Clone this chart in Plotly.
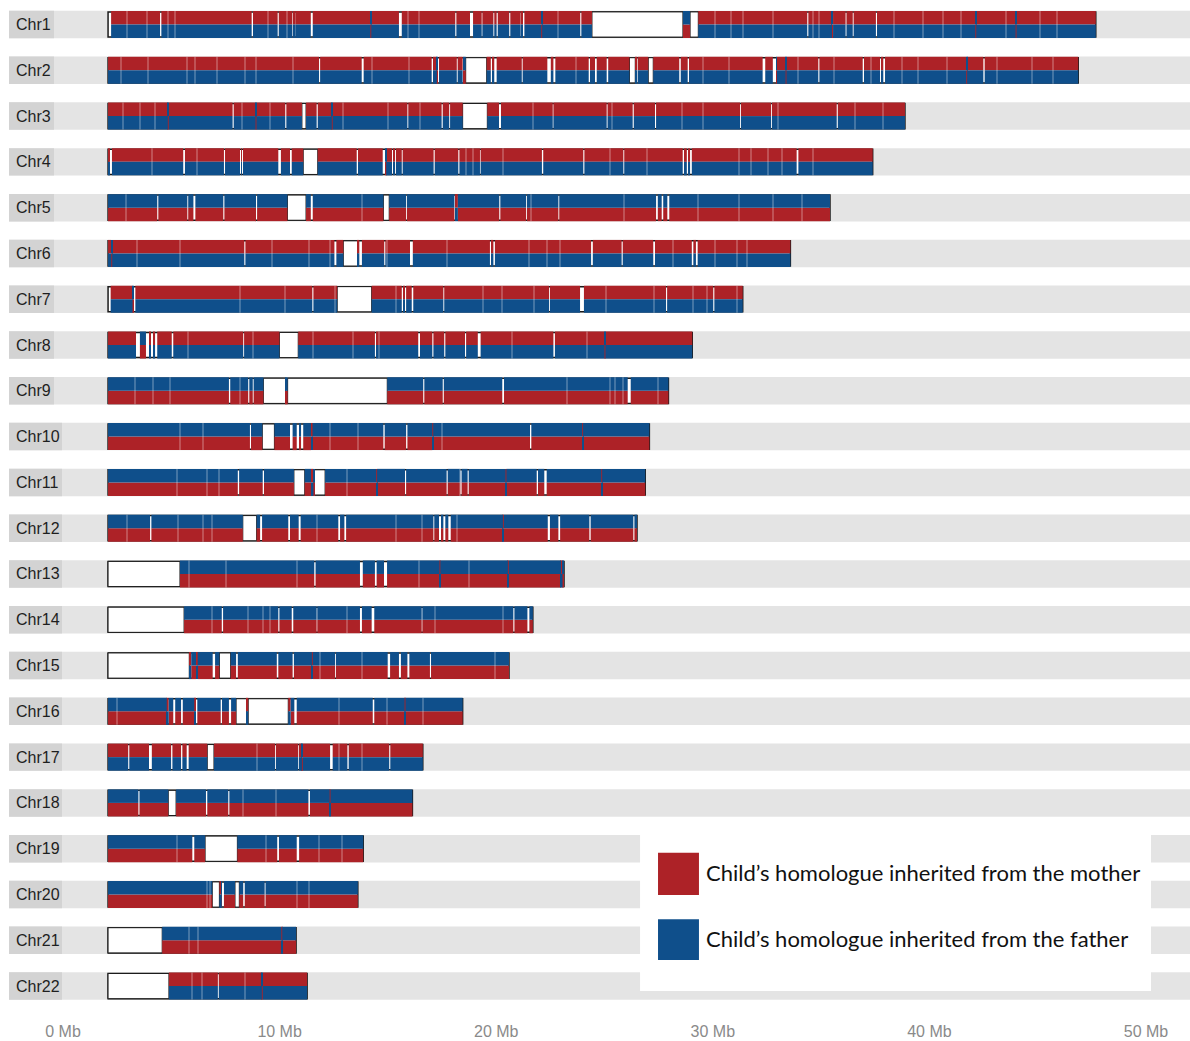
import plotly.graph_objects as go

# ---------------------------------------------------------------- data (Mb)
chrom_names = ["Chr1", "Chr2", "Chr3", "Chr4", "Chr5", "Chr6", "Chr7", "Chr8",
               "Chr9", "Chr10", "Chr11", "Chr12", "Chr13", "Chr14", "Chr15",
               "Chr16", "Chr17", "Chr18", "Chr19", "Chr20", "Chr21", "Chr22"]
chrom_start = 2.08
chrom_ends = [47.68, 46.87, 38.87, 37.38, 35.41, 33.58, 31.38, 29.05, 27.95,
              27.07, 26.88, 26.50, 23.13, 21.69, 20.59, 18.45, 16.61, 16.13,
              13.86, 13.61, 10.76, 11.27]
# parent whose homologue occupies the upper half of each bar
upper_parent = ["mother", "mother", "mother", "mother", "father", "mother",
                "mother", "mother", "father", "father", "father", "father",
                "father", "father", "father", "father", "mother", "father",
                "father", "father", "father", "mother"]

# uncovered stretches (no informative markers), [start, end] in Mb
gaps_chr1 = [[2.08, 2.22], [4.48, 4.54], [8.71, 8.77], [9.91, 9.96], [10.59, 10.63],
             [10.68, 10.72], [11.44, 11.53], [15.51, 15.64], [18.11, 18.16],
             [18.79, 18.93], [19.33, 19.36], [19.87, 19.91], [20.02, 20.07],
             [20.60, 20.65], [21.13, 21.18], [21.22, 21.30], [23.88, 23.93],
             [24.42, 28.62], [28.95, 29.33], [34.36, 34.41], [36.13, 36.17],
             [36.46, 36.50], [37.53, 37.58]]
gaps_chr2 = [[11.82, 11.87], [13.79, 13.88], [17.02, 17.08], [17.30, 17.36],
             [18.18, 18.22], [18.45, 18.51], [18.59, 19.56], [19.75, 19.84],
             [19.91, 20.02], [21.18, 21.22], [22.36, 22.52], [22.64, 22.73],
             [24.27, 24.33], [24.56, 24.64], [25.10, 25.17], [26.15, 26.42],
             [26.49, 26.53], [27.02, 27.25], [28.45, 28.52], [28.84, 28.90],
             [32.30, 32.42], [32.77, 32.92], [34.87, 34.92], [36.92, 36.98],
             [37.72, 37.80], [37.87, 37.95], [42.49, 42.55]]
gaps_chr3 = [[7.83, 7.88], [10.26, 10.31], [11.03, 11.22], [11.71, 11.76],
             [15.90, 15.94], [17.48, 17.53], [17.83, 17.87], [18.45, 19.59],
             [20.13, 20.22], [22.61, 22.64], [25.10, 25.14], [26.30, 26.35],
             [27.33, 27.38], [31.26, 31.30], [32.69, 32.73], [35.72, 35.77]]
gaps_chr4 = [[2.17, 2.26], [5.55, 5.63], [7.43, 7.48], [8.17, 8.22], [8.26, 8.31],
             [9.94, 10.06], [10.48, 10.56], [11.09, 11.76], [13.56, 13.62],
             [14.76, 14.88], [15.19, 15.25], [15.31, 15.37], [15.64, 15.68],
             [17.11, 17.16], [18.25, 18.30], [19.25, 19.28], [22.11, 22.17],
             [24.02, 24.07], [25.87, 25.91], [28.61, 28.67], [28.80, 28.87],
             [28.95, 29.03], [33.87, 33.95]]
gaps_chr5 = [[4.35, 4.40], [5.74, 5.78], [6.02, 6.11], [7.40, 7.45], [8.91, 8.96],
             [10.36, 11.22], [11.44, 11.53], [14.79, 15.06], [15.84, 15.88],
             [18.07, 18.14], [20.14, 20.19], [21.38, 21.42], [22.87, 22.91],
             [27.38, 27.46], [27.64, 27.71], [27.90, 27.99]]
gaps_chr6 = [[8.37, 8.42], [12.53, 12.62], [12.94, 13.61], [13.68, 13.80],
             [14.83, 14.88], [16.02, 16.15], [19.71, 19.79], [19.87, 19.94],
             [24.38, 24.46], [25.79, 25.84], [27.25, 27.33], [29.03, 29.10],
             [29.22, 29.30]]
gaps_chr7 = [[2.08, 2.20], [3.25, 3.34], [11.51, 11.56], [12.66, 14.25],
             [15.64, 15.71], [15.76, 15.84], [16.10, 16.17], [17.56, 17.60],
             [22.44, 22.48], [23.87, 24.05], [27.84, 27.89], [30.02, 30.07]]
gaps_chr8 = [[3.37, 3.55], [3.83, 3.98], [4.06, 4.17], [4.25, 4.35], [5.02, 5.09],
             [8.32, 8.36], [9.99, 10.86], [14.40, 14.45], [16.40, 16.48],
             [17.05, 17.10], [17.60, 17.65], [18.56, 18.61], [19.15, 19.28],
             [22.64, 22.71]]
gaps_chr9 = [[7.66, 7.72], [8.55, 8.60], [8.76, 8.80], [9.25, 10.28],
             [10.37, 14.97], [16.63, 16.68], [17.53, 17.58], [20.28, 20.36],
             [26.07, 26.21]]
gaps_chr10 = [[8.63, 8.68], [9.20, 9.76], [10.48, 10.60], [10.79, 10.91],
              [10.99, 11.09], [14.79, 14.85], [15.84, 15.90], [21.56, 21.62]]
gaps_chr11 = [[8.07, 8.13], [9.22, 9.28], [10.66, 11.16], [11.59, 12.10],
              [15.79, 15.84], [17.71, 17.76], [18.35, 18.40], [18.68, 18.73],
              [21.87, 21.93], [22.22, 22.33]]
gaps_chr12 = [[4.02, 4.08], [8.30, 8.94], [9.10, 9.19], [10.40, 10.48],
              [10.88, 10.97], [12.71, 12.79], [12.99, 13.07], [17.10, 17.14],
              [17.36, 17.45], [17.56, 17.65], [17.79, 17.90], [22.38, 22.48],
              [22.87, 22.95], [24.30, 24.36], [26.33, 26.38]]
gaps_chr13 = [[2.08, 5.40], [11.60, 11.66], [13.71, 13.84], [14.40, 14.48],
              [14.82, 14.96]]
gaps_chr14 = [[2.08, 5.59], [7.33, 7.39], [9.94, 9.99], [10.56, 10.63],
              [11.71, 11.74], [13.71, 13.80], [14.25, 14.37], [16.56, 16.59],
              [20.79, 20.84], [21.44, 21.53]]
gaps_chr15 = [[2.08, 5.83], [6.91, 7.02], [7.22, 7.74], [7.99, 8.07], [9.87, 9.94],
              [10.60, 10.66], [12.56, 12.60], [14.99, 15.10], [15.51, 15.60],
              [15.90, 15.99], [16.94, 16.99]]
gaps_chr16 = [[5.09, 5.18], [5.45, 5.53], [6.11, 6.20], [7.28, 7.34], [7.66, 7.76],
              [7.99, 8.48], [8.55, 10.40], [10.68, 10.79], [14.30, 14.37]]
gaps_chr17 = [[3.01, 3.06], [3.97, 4.10], [4.99, 5.05], [5.45, 5.51], [5.71, 5.80],
              [6.66, 6.97], [9.79, 9.83], [10.86, 10.94], [12.33, 12.45],
              [13.13, 13.19], [15.06, 15.11]]
gaps_chr18 = [[3.48, 3.53], [4.86, 5.22], [6.60, 6.66], [7.63, 7.68], [11.33, 11.40]]
gaps_chr19 = [[5.97, 6.06], [6.56, 8.05], [9.89, 9.97], [10.79, 10.90]]
gaps_chr20 = [[6.89, 7.22], [7.34, 7.43], [7.94, 8.14], [8.32, 8.39], [9.31, 9.35]]
gaps_chr21 = [[2.08, 4.58]]
gaps_chr22 = [[2.08, 4.89], [7.15, 7.19]]

# short stretches where the two homologues swap halves, [start, end] in Mb
swaps_chr1 = [[28.62, 28.95], [35.50, 35.55], [42.12, 42.16], [43.98, 44.02],
              [14.19, 14.23], [22.08, 22.12]]
swaps_chr2 = [[17.26, 17.30], [18.51, 18.59], [32.92, 32.96], [41.70, 41.74],
              [33.36, 33.40]]
swaps_chr3 = [[8.89, 8.93], [12.41, 12.45], [4.84, 4.88]]
swaps_chr4 = [[14.88, 14.92]]
swaps_chr5 = [[18.14, 18.23]]
swaps_chr6 = [[2.23, 2.27]]
swaps_chr7 = [[3.21, 3.25]]
swaps_chr8 = [[3.55, 3.83], [25.00, 25.04]]
swaps_chr9 = []
swaps_chr10 = [[11.45, 11.52], [17.05, 17.09], [23.97, 24.01]]
swaps_chr11 = [[11.45, 11.56], [14.46, 14.50], [20.43, 20.47], [24.85, 24.89]]
swaps_chr12 = [[20.31, 20.35]]
swaps_chr13 = [[17.38, 17.42], [20.54, 20.58], [22.99, 23.06]]
swaps_chr14 = []
swaps_chr15 = [[5.83, 5.92], [6.14, 6.22], [11.49, 11.53]]
swaps_chr16 = [[4.79, 4.88], [6.06, 6.11], [8.48, 8.55], [10.40, 10.51], [15.77, 15.81]]
swaps_chr17 = [[11.03, 11.07]]
swaps_chr18 = [[12.31, 12.35]]
swaps_chr19 = []
swaps_chr20 = [[7.22, 7.33]]
swaps_chr21 = [[10.08, 10.12]]
swaps_chr22 = [[9.18, 9.22]]

# isolated low-confidence markers, Mb
weak_chr1 = [2.94, 3.86, 4.86, 5.17, 9.48, 10.33, 15.94, 16.44, 22.87, 30.10, 30.83,
             31.41, 32.79, 34.61, 34.92, 38.36, 39.72, 40.64, 41.44, 43.54, 45.11, 45.88]
weak_chr2 = [2.66, 3.94, 5.74, 6.09, 7.10, 8.40, 8.91, 10.63, 14.25, 15.99, 23.68,
             29.56, 30.76, 33.95, 35.60, 37.30, 38.72, 39.49, 40.80, 43.13, 44.72, 45.69]
weak_chr3 = [2.78, 3.55, 4.25, 8.25, 9.56, 12.94, 15.02, 16.48, 21.71, 25.33, 28.56,
             29.56, 33.02, 36.56, 37.84]
weak_chr4 = [4.10, 6.17, 18.61, 18.94, 20.33, 25.25, 26.95, 31.22, 31.75, 32.56,
             33.18, 34.61]
weak_chr5 = [2.91, 13.79, 21.60, 25.91, 29.33, 31.20, 32.80, 34.10]
weak_chr6 = [3.40, 5.40, 9.66, 11.36, 12.33, 14.97, 17.71, 21.53, 22.33, 22.95,
             28.18, 30.10, 31.10, 31.57]
weak_chr7 = [8.17, 10.25, 12.56, 15.37, 19.40, 20.28, 21.74, 25.07, 27.30, 29.10,
             29.72, 31.10]
weak_chr8 = [5.79, 8.79, 11.56, 13.40, 14.60, 20.74, 24.18]
weak_chr9 = [3.32, 4.17, 4.94, 8.17, 23.25, 25.25, 25.49, 25.87, 27.48]
weak_chr10 = [5.40, 6.48, 12.33, 13.60, 17.50]
weak_chr11 = [5.25, 6.63, 7.20, 13.10, 18.33]
weak_chr12 = [2.97, 5.32, 6.48, 6.89, 11.71, 15.37, 16.59, 18.18]
weak_chr13 = [5.83, 7.53, 10.79, 16.45, 18.76]
weak_chr14 = [6.89, 8.56, 9.22, 9.56, 13.13, 17.17, 20.33]
weak_chr15 = [11.87, 13.82, 19.94]
weak_chr16 = [2.48, 12.76, 14.94, 16.60]
weak_chr17 = [8.94, 12.76, 13.79]
weak_chr18 = [8.32, 9.83]
weak_chr19 = [5.28, 9.36, 11.80, 12.90]
weak_chr20 = [6.63, 6.79, 10.79, 11.37]
weak_chr21 = [5.83, 6.25]
weak_chr22 = [5.94, 6.40, 8.40]

gaps = [gaps_chr1, gaps_chr2, gaps_chr3, gaps_chr4, gaps_chr5, gaps_chr6, gaps_chr7,
        gaps_chr8, gaps_chr9, gaps_chr10, gaps_chr11, gaps_chr12, gaps_chr13,
        gaps_chr14, gaps_chr15, gaps_chr16, gaps_chr17, gaps_chr18, gaps_chr19,
        gaps_chr20, gaps_chr21, gaps_chr22]
swaps = [swaps_chr1, swaps_chr2, swaps_chr3, swaps_chr4, swaps_chr5, swaps_chr6,
         swaps_chr7, swaps_chr8, swaps_chr9, swaps_chr10, swaps_chr11, swaps_chr12,
         swaps_chr13, swaps_chr14, swaps_chr15, swaps_chr16, swaps_chr17,
         swaps_chr18, swaps_chr19, swaps_chr20, swaps_chr21, swaps_chr22]
weak = [weak_chr1, weak_chr2, weak_chr3, weak_chr4, weak_chr5, weak_chr6, weak_chr7,
        weak_chr8, weak_chr9, weak_chr10, weak_chr11, weak_chr12, weak_chr13,
        weak_chr14, weak_chr15, weak_chr16, weak_chr17, weak_chr18, weak_chr19,
        weak_chr20, weak_chr21, weak_chr22]

tick_values = [0, 10, 20, 30, 40, 50]
tick_labels = ["0 Mb", "10 Mb", "20 Mb", "30 Mb", "40 Mb", "50 Mb"]
legend_labels = ["Child’s homologue inherited from the mother",
                 "Child’s homologue inherited from the father"]

# ---------------------------------------------------------------- styling
RED = "#AD2227"
BLUE = "#0F4F8B"
BAND = "#E4E4E4"
LABEL_BG = "#D3D3D3"
X_RANGE = [-2.909, 52.03]
Y_RANGE = [21.304, -0.535]
BAND_LEFT = -2.493
HALF = 0.295          # height of one homologue strip (row units)
BODY = 0.55           # height of the chromosome outline
WEAK_W = 0.05
BOX_MIN = 0.18        # gaps at least this long get a drawn frame

parent_color = {"mother": RED, "father": BLUE}
other_parent = {"mother": "father", "father": "mother"}


def subtract(start, end, holes):
    out, cur = [], start
    for a, b in sorted(holes):
        if a > cur:
            out.append((cur, min(a, end)))
        cur = max(cur, b)
    if cur < end:
        out.append((cur, end))
    return out


seg = {"mother": {"y": [], "base": [], "x": []},
       "father": {"y": [], "base": [], "x": []}}
box = {"y": [], "base": [], "x": []}
faint = {"y": [], "base": [], "x": []}

for i, name in enumerate(chrom_names):
    end = chrom_ends[i]
    up = upper_parent[i]
    lo = other_parent[up]
    holes = gaps[i] + swaps[i]
    for a, b in subtract(chrom_start, end, holes):
        for p, dy in ((up, -HALF / 2), (lo, HALF / 2)):
            seg[p]["y"].append(i + dy)
            seg[p]["base"].append(a)
            seg[p]["x"].append(b - a)
    for a, b in swaps[i]:
        for p, dy in ((lo, -HALF / 2), (up, HALF / 2)):
            seg[p]["y"].append(i + dy)
            seg[p]["base"].append(a)
            seg[p]["x"].append(b - a)
    for a, b in gaps[i]:
        if b - a >= BOX_MIN:
            box["y"].append(i)
            box["base"].append(a)
            box["x"].append(b - a)
    for w in weak[i]:
        faint["y"].append(i)
        faint["base"].append(w - WEAK_W / 2)
        faint["x"].append(WEAK_W)

n = len(chrom_names)
rows = list(range(n))
label_ends = [-0.416 if len(nm) == 4 else -0.046 for nm in chrom_names]

fig = go.Figure()
# grey band behind each chromosome
fig.add_trace(go.Bar(y=rows, base=[BAND_LEFT] * n, x=[X_RANGE[1] - BAND_LEFT] * n,
                     width=[0.6] * n, orientation="h",
                     marker=dict(color=BAND, line=dict(width=0)), hoverinfo="skip"))
# darker tab holding the chromosome name
fig.add_trace(go.Bar(y=rows, base=[BAND_LEFT] * n,
                     x=[e - BAND_LEFT for e in label_ends],
                     width=[0.6] * n, orientation="h",
                     marker=dict(color=LABEL_BG, line=dict(width=0)), hoverinfo="skip"))
# chromosome outline
fig.add_trace(go.Bar(y=rows, base=[chrom_start] * n,
                     x=[e - chrom_start for e in chrom_ends],
                     width=[BODY] * n, orientation="h",
                     marker=dict(color="white", line=dict(color="#1a1a1a", width=1.5)),
                     hoverinfo="skip"))
# framed uncovered blocks
fig.add_trace(go.Bar(y=box["y"], base=box["base"], x=box["x"],
                     width=[BODY] * len(box["y"]), orientation="h",
                     marker=dict(color="white", line=dict(color="#1a1a1a", width=1)),
                     hoverinfo="skip"))
for p in ("mother", "father"):
    fig.add_trace(go.Bar(y=seg[p]["y"], base=seg[p]["base"], x=seg[p]["x"],
                         width=[HALF] * len(seg[p]["y"]), orientation="h",
                         marker=dict(color=parent_color[p], line=dict(width=0)),
                         hoverinfo="skip"))
fig.add_trace(go.Bar(y=faint["y"], base=faint["base"], x=faint["x"],
                     width=[2 * HALF] * len(faint["y"]), orientation="h",
                     marker=dict(color="white", opacity=0.22, line=dict(width=0)),
                     hoverinfo="skip"))

annotations = []
for i, name in enumerate(chrom_names):
    annotations.append(dict(x=-2.26, y=i, xref="x", yref="y", text=name,
                            showarrow=False, xanchor="left", yanchor="middle",
                            font=dict(family="Liberation Sans, Arial", size=16,
                                      color="#1e1e1e")))

# legend panel
shapes = [dict(type="rect", xref="x", yref="y", x0=26.64, x1=50.23, y0=17.70, y1=21.11,
               fillcolor="white", line=dict(width=0), layer="above"),
          dict(type="rect", xref="x", yref="y", x0=27.47, x1=29.36, y0=18.09, y1=19.01,
               fillcolor=RED, line=dict(width=0), layer="above"),
          dict(type="rect", xref="x", yref="y", x0=27.47, x1=29.36, y0=19.54, y1=20.43,
               fillcolor=BLUE, line=dict(width=0), layer="above")]
for text, yy in zip(legend_labels, (18.53, 19.97)):
    annotations.append(dict(x=29.59, y=yy, xref="x", yref="y", text=text,
                            showarrow=False, xanchor="left", yanchor="middle",
                            font=dict(family="Lato", size=22, color="#111111")))

fig.update_layout(
    width=1190, height=1041,
    margin=dict(l=0, r=0, t=0, b=41),
    paper_bgcolor="white", plot_bgcolor="white",
    barmode="overlay", showlegend=False,
    shapes=shapes, annotations=annotations,
    xaxis=dict(range=X_RANGE, showgrid=False, zeroline=False, showline=False,
               tickmode="array", tickvals=tick_values, ticktext=tick_labels,
               ticks="", ticklabelstandoff=20,
               tickfont=dict(family="Liberation Sans, Arial", size=16, color="#8a8a8a"),
               fixedrange=True),
    yaxis=dict(range=Y_RANGE, visible=False, fixedrange=True),
)

fig.write_html("out.html")
